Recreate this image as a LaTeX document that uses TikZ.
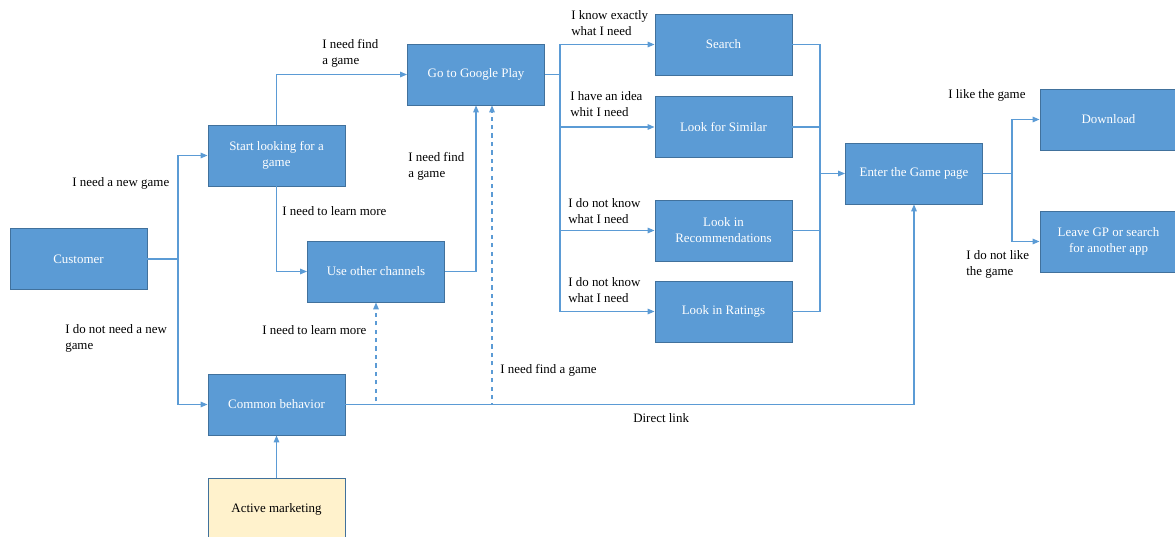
\documentclass[tikz,border=0pt]{standalone}
\usepackage{fontspec}
\setmainfont{Liberation Serif}
\usepackage{tikz}
\usetikzlibrary{positioning,calc,arrows.meta}
\definecolor{boxblue}{RGB}{91,155,213}
\definecolor{boxborder}{RGB}{65,113,156}
\definecolor{linkblue}{RGB}{91,155,213}
\definecolor{adyellow}{RGB}{255,242,204}
\tikzstyle{stepbox} = [rectangle, draw=boxborder, fill=boxblue,
                       minimum width=3.425cm, minimum height=1.525cm,
                       text=white, align=center, line width=0.6pt,
                       font=\fontsize{9.2}{11.3}\selectfont]
\tikzstyle{adbox} = [stepbox, fill=adyellow, text=black]
\tikzstyle{cond} = [align=left, anchor=west, inner sep=0pt,
                    font=\fontsize{9.2}{11.3}\selectfont]
\tikzstyle{link} = [draw=linkblue, line width=0.8pt]
\tikzstyle{arrow} = [link, -{Triangle[length=5pt,width=4pt]}]

\begin{document}
\begin{tikzpicture}[x=0.025cm, y=-0.025cm]
    \useasboundingbox (0,0) rectangle (1175,537);

    % Boxes
    \node[stepbox] (cust) at (78.5,259) {Customer};
    \node[stepbox] (start) at (276.5,155.5) {Start looking for a\\game};
    \node[stepbox] (gp) at (476,74.5) {Go to Google Play};
    \node[stepbox] (other) at (376,271.5) {Use other channels};
    \node[stepbox] (common) at (276.5,404.5) {Common behavior};
    \node[adbox] (mkt) at (276.5,509) {Active marketing};
    \node[stepbox] (search) at (723.5,44.5) {Search};
    \node[stepbox] (similar) at (723.5,127) {Look for Similar};
    \node[stepbox] (recom) at (723.5,230.5) {Look in\\Recommendations};
    \node[stepbox] (rating) at (723.5,311.5) {Look in Ratings};
    \node[stepbox] (game) at (914,173.5) {Enter the Game page};
    \node[stepbox] (dl) at (1108.5,119.5) {Download};
    \node[stepbox] (leave) at (1108.5,241.5) {Leave GP or search\\for another app};

    % Junctions
    \coordinate (j1) at (178,259);
    \coordinate (j2) at (560,74.5);
    \coordinate (j3) at (820,173.5);
    \coordinate (j4) at (1012,173.5);

    % Customer branches
    \draw[link] (cust.east) -- (j1);
    \draw[arrow] (j1) |- (start.west);
    \draw[arrow] (j1) |- (common.west);
    \draw[arrow] (start.north) |- (gp.west);
    \draw[arrow] (start.south) |- (other.west);
    \draw[arrow] (other.east) -| (gp.south);
    \draw[arrow] (mkt.north) -- (common.south);

    % Direct link and dashed links
    \draw[arrow] (common.east) -| (game.south);
    \draw[arrow, dashed] (common.east) -| (other.south);
    \draw[arrow, dashed] (common.east) -| ($(gp.south)+(16,0)$);

    % Google Play options
    \draw[link] (gp.east) -- (j2);
    \foreach \opt in {search,similar,recom,rating} {
        \draw[arrow] (j2) |- (\opt.west);
        \draw[link] (\opt.east) -| (j3);
    }
    \draw[arrow] (j3) -- (game.west);

    % Outcomes
    \draw[link] (game.east) -- (j4);
    \draw[arrow] (j4) |- (dl.west);
    \draw[arrow] (j4) |- (leave.west);

    % Conditions
    \node[cond] (c1) at (72,183) {I need a new game};
    \node[cond] (c2) at (65,338.5) {I do not need a new\\game};
    \node[cond] (c3) at (322,53) {I need find\\a game};
    \node[cond] (c4) at (282,211) {I need to learn more};
    \node[cond] (c5) at (408,166) {I need find\\a game};
    \node[cond] (c6) at (262,330) {I need to learn more};
    \node[cond] (c7) at (500,370) {I need find a game};
    \node[cond] (c8) at (633,418) {Direct link};
    \node[cond] (c9) at (571,23) {I know exactly\\what I need};
    \node[cond] (c10) at (570,104) {I have an idea\\whit I need};
    \node[cond] (c11) at (568,211) {I do not know\\what I need};
    \node[cond] (c12) at (568,290) {I do not know\\what I need};
    \node[cond] (c13) at (948,95) {I like the game};
    \node[cond] (c14) at (966,264) {I do not like\\the game};
\end{tikzpicture}
\end{document}
